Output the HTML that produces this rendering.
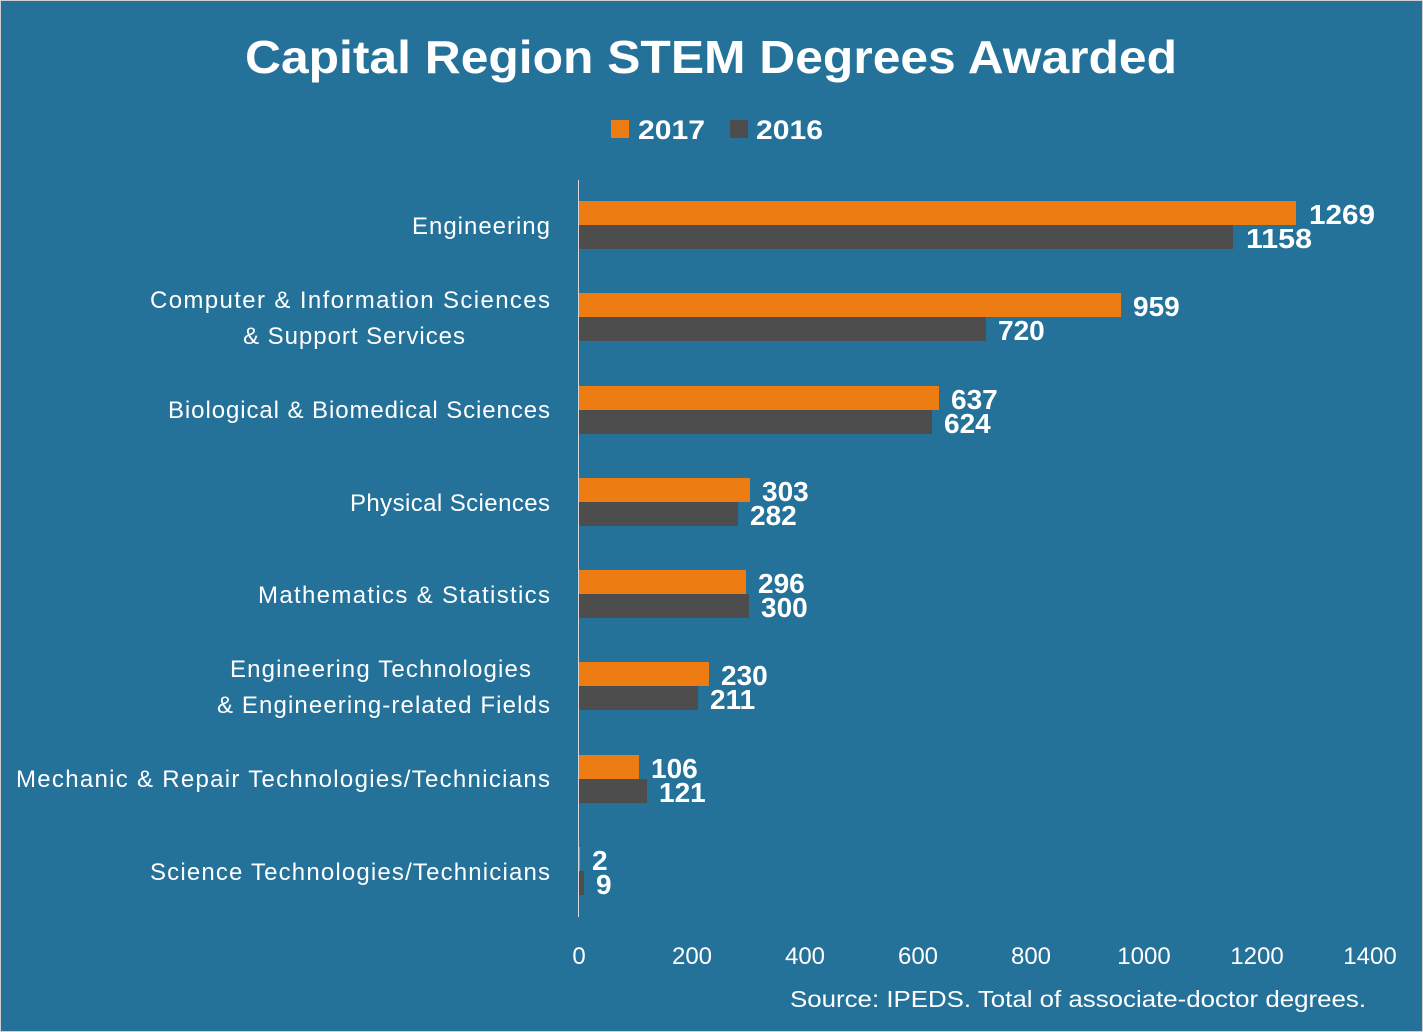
<!DOCTYPE html>
<html><head><style>body{margin:0}svg{display:block}</style></head><body>
<svg width="1423" height="1032" xmlns="http://www.w3.org/2000/svg" font-family="Liberation Sans, sans-serif">
<rect x="0" y="0" width="1423" height="1032" fill="#24729A"/>
<rect x="0.5" y="0.5" width="1422" height="1031" fill="none" stroke="#d0d0d0"/>
<text x="711" y="73" text-anchor="middle" font-size="46" font-weight="bold" fill="#fff" textLength="932" lengthAdjust="spacingAndGlyphs">Capital Region STEM Degrees Awarded</text>
<rect x="611" y="120" width="18" height="18" fill="#ED7D12"/>
<text x="638" y="139" font-size="27" font-weight="bold" fill="#fff" textLength="67" lengthAdjust="spacingAndGlyphs">2017</text>
<rect x="730" y="120" width="18" height="18" fill="#4D4D4D"/>
<text x="756" y="139" font-size="27" font-weight="bold" fill="#fff" textLength="67" lengthAdjust="spacingAndGlyphs">2016</text>
<line x1="578.5" y1="180" x2="578.5" y2="917" stroke="#d9d9d9" stroke-width="1"/>
<g fill="#ED7D12">
<rect x="579" y="201" width="717" height="24"/>
<rect x="579" y="293" width="542" height="24"/>
<rect x="579" y="386" width="360" height="24"/>
<rect x="579" y="478" width="171" height="24"/>
<rect x="579" y="570" width="167" height="24"/>
<rect x="579" y="662" width="130" height="24"/>
<rect x="579" y="755" width="60" height="24"/>
<rect x="579" y="847" width="1" height="24"/>
</g>
<g fill="#4D4D4D">
<rect x="579" y="225" width="654" height="24"/>
<rect x="579" y="317" width="407" height="24"/>
<rect x="579" y="410" width="353" height="24"/>
<rect x="579" y="502" width="159" height="24"/>
<rect x="579" y="594" width="170" height="24"/>
<rect x="579" y="686" width="119" height="24"/>
<rect x="579" y="779" width="68" height="24"/>
<rect x="579" y="871" width="5" height="24"/>
</g>
<g font-size="28" font-weight="bold" fill="#fff">
<text x="1309" y="224" textLength="66" lengthAdjust="spacingAndGlyphs">1269</text><text x="1246" y="248" textLength="66" lengthAdjust="spacingAndGlyphs">1158</text>
<text x="1133" y="316">959</text><text x="998" y="340">720</text>
<text x="951" y="409">637</text><text x="944" y="433">624</text>
<text x="762" y="501">303</text><text x="750" y="525">282</text>
<text x="758" y="593">296</text><text x="761" y="617">300</text>
<text x="721" y="685">230</text><text x="710" y="709">211</text>
<text x="651" y="778">106</text><text x="659" y="802">121</text>
<text x="592" y="870">2</text><text x="596" y="894">9</text>
</g>
<g font-size="24" fill="#fff" lengthAdjust="spacingAndGlyphs">
<text x="412" y="234" textLength="138">Engineering</text>
<text x="150" y="308" textLength="400">Computer &amp; Information Sciences</text>
<text x="243" y="344" textLength="222">&amp; Support Services</text>
<text x="168" y="418" textLength="382">Biological &amp; Biomedical Sciences</text>
<text x="350" y="511" textLength="200">Physical Sciences</text>
<text x="258" y="603" textLength="292">Mathematics &amp; Statistics</text>
<text x="230" y="677" textLength="301">Engineering Technologies</text>
<text x="217" y="713" textLength="333">&amp; Engineering-related Fields</text>
<text x="16" y="787" textLength="534">Mechanic &amp; Repair Technologies/Technicians</text>
<text x="150" y="880" textLength="400">Science Technologies/Technicians</text>
</g>
<g font-size="24" fill="#fff" text-anchor="middle">
<text x="579" y="964">0</text><text x="692" y="964">200</text><text x="805" y="964">400</text>
<text x="918" y="964">600</text><text x="1031" y="964">800</text><text x="1144" y="964">1000</text>
<text x="1257" y="964">1200</text><text x="1370" y="964">1400</text>
</g>
<text x="1366" y="1007" font-size="23" fill="#fff" text-anchor="end" textLength="576" lengthAdjust="spacingAndGlyphs">Source: IPEDS. Total of associate-doctor degrees.</text>
</svg>
</body></html>
